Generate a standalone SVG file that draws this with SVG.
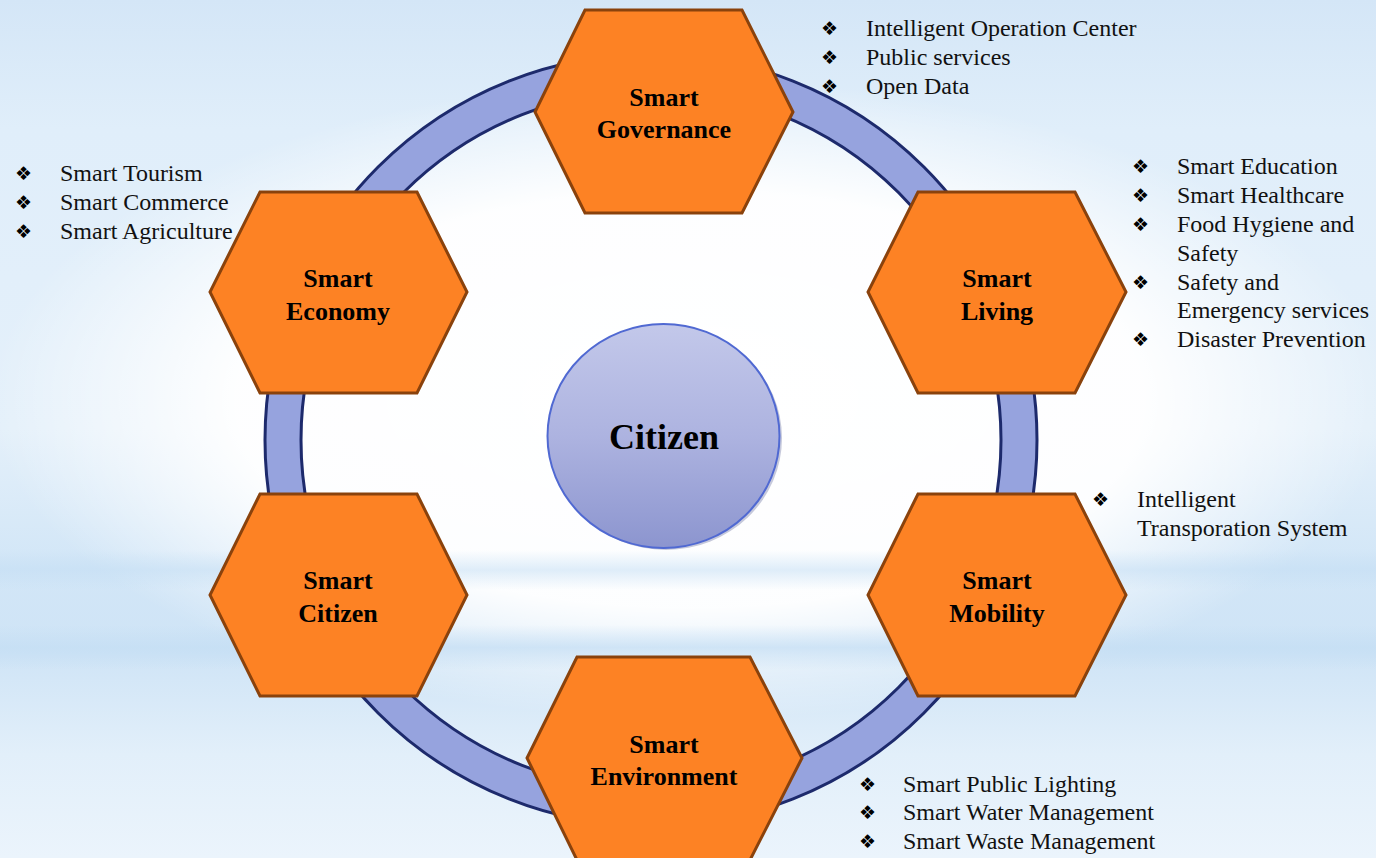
<svg xmlns="http://www.w3.org/2000/svg" width="1376" height="858" viewBox="0 0 1376 858">
  <defs>
    <linearGradient id="bg" x1="0" y1="0" x2="0" y2="1">
      <stop offset="0" stop-color="#d4e6f7"/>
      <stop offset="0.15" stop-color="#e0eefa"/>
      <stop offset="0.5" stop-color="#e4f0fa"/>
      <stop offset="0.66" stop-color="#d2e6f7"/>
      <stop offset="0.76" stop-color="#cfe4f6"/>
      <stop offset="0.88" stop-color="#e2effa"/>
      <stop offset="1" stop-color="#ebf4fc"/>
    </linearGradient>
    <radialGradient id="glow" cx="0.5" cy="0.5" r="0.5">
      <stop offset="0" stop-color="#ffffff" stop-opacity="1"/>
      <stop offset="0.65" stop-color="#ffffff" stop-opacity="0.95"/>
      <stop offset="1" stop-color="#ffffff" stop-opacity="0"/>
    </radialGradient>
    <linearGradient id="streak" x1="0" y1="0" x2="0" y2="1">
      <stop offset="0" stop-color="#c4def4" stop-opacity="0"/>
      <stop offset="0.5" stop-color="#c4def4" stop-opacity="0.9"/>
      <stop offset="1" stop-color="#c4def4" stop-opacity="0"/>
    </linearGradient>
    <linearGradient id="cit" x1="0" y1="0" x2="0" y2="1">
      <stop offset="0" stop-color="#c3c8ea"/>
      <stop offset="0.5" stop-color="#adb3e0"/>
      <stop offset="1" stop-color="#8c95cf"/>
    </linearGradient>
    <style>
      .hex { fill: #fd8224; stroke: #8a420c; stroke-width: 3; stroke-linejoin: miter; }
      .lbl { font-family: "Liberation Serif", "Times New Roman", serif; font-weight: bold; font-size: 26px; fill: #000; text-anchor: middle; }
      .bl { font-family: "Liberation Serif", "Times New Roman", serif; font-size: 24px; fill: #111; }
      .bu { font-family: "DejaVu Sans", sans-serif; font-size: 19px; fill: #000; }
    </style>
  </defs>

  <!-- background -->
  <rect x="0" y="0" width="1376" height="858" fill="url(#bg)"/>
  <ellipse cx="690" cy="400" rx="700" ry="320" fill="url(#glow)"/>
  <rect x="0" y="550" width="1376" height="40" fill="url(#streak)" opacity="0.6"/>
  <rect x="0" y="625" width="1376" height="45" fill="url(#streak)" opacity="0.8"/>

  <!-- ring (connector) -->
  <g id="connectors">
    <circle cx="651" cy="440" r="368" fill="none" stroke="#96a3de" stroke-width="36"/>
    <circle cx="651" cy="440" r="386" fill="none" stroke="#1d2a6c" stroke-width="3"/>
    <circle cx="651" cy="440" r="350" fill="none" stroke="#1d2a6c" stroke-width="3"/>
  </g>

  <!-- center -->
  <g id="citizen-center">
    <ellipse cx="666" cy="438" rx="116" ry="112" fill="#8d94b8" opacity="0.5"/>
    <ellipse cx="663.5" cy="436" rx="116" ry="112" fill="url(#cit)" stroke="#5069d2" stroke-width="2"/>
    <text x="664" y="449" font-family="Liberation Serif, Times New Roman, serif" font-weight="bold" font-size="36" text-anchor="middle">Citizen</text>
  </g>

  <g id="smart-governance">
    <polygon class="hex" points="585,10 742,10 793,112 742,213 585,213 535,112"/>
    <text class="lbl" x="664" y="106">Smart</text>
    <text class="lbl" x="664" y="138">Governance</text>
  </g>

  <g id="smart-economy">
    <polygon class="hex" points="260,192 417,192 467,292 417,393 260,393 210,292"/>
    <text class="lbl" x="338" y="287">Smart</text>
    <text class="lbl" x="338" y="320">Economy</text>
  </g>

  <g id="smart-living">
    <polygon class="hex" points="918,192 1075,192 1126,292 1075,393 918,393 868,292"/>
    <text class="lbl" x="997" y="287">Smart</text>
    <text class="lbl" x="997" y="320">Living</text>
  </g>

  <g id="smart-citizen">
    <polygon class="hex" points="260,494 417,494 467,595 417,696 260,696 210,595"/>
    <text class="lbl" x="338" y="589">Smart</text>
    <text class="lbl" x="338" y="622">Citizen</text>
  </g>

  <g id="smart-mobility">
    <polygon class="hex" points="918,494 1075,494 1126,595 1075,696 918,696 868,595"/>
    <text class="lbl" x="997" y="589">Smart</text>
    <text class="lbl" x="997" y="622">Mobility</text>
  </g>

  <g id="smart-environment">
    <polygon class="hex" points="577,657 750,657 802,758 750,860 577,860 527,758"/>
    <text class="lbl" x="664" y="753">Smart</text>
    <text class="lbl" x="664" y="785">Environment</text>
  </g>

  <!-- bullet lists -->
  <g id="list-governance">
    <text class="bu" x="821" y="35">❖</text><text class="bl" x="866" y="36">Intelligent Operation Center</text>
    <text class="bu" x="821" y="64">❖</text><text class="bl" x="866" y="65">Public services</text>
    <text class="bu" x="821" y="93">❖</text><text class="bl" x="866" y="94">Open Data</text>
  </g>

  <g id="list-economy">
    <text class="bu" x="15" y="180">❖</text><text class="bl" x="60" y="181">Smart Tourism</text>
    <text class="bu" x="15" y="209">❖</text><text class="bl" x="60" y="210">Smart Commerce</text>
    <text class="bu" x="15" y="238">❖</text><text class="bl" x="60" y="239">Smart Agriculture</text>
  </g>

  <g id="list-living">
    <text class="bu" x="1132" y="173">❖</text><text class="bl" x="1177" y="174">Smart Education</text>
    <text class="bu" x="1132" y="202">❖</text><text class="bl" x="1177" y="203">Smart Healthcare</text>
    <text class="bu" x="1132" y="231">❖</text><text class="bl" x="1177" y="232">Food Hygiene and</text>
    <text class="bl" x="1177" y="261">Safety</text>
    <text class="bu" x="1132" y="289">❖</text><text class="bl" x="1177" y="290">Safety and</text>
    <text class="bl" x="1177" y="318">Emergency services</text>
    <text class="bu" x="1132" y="346">❖</text><text class="bl" x="1177" y="347">Disaster Prevention</text>
  </g>

  <g id="list-mobility">
    <text class="bu" x="1092" y="506">❖</text><text class="bl" x="1137" y="507">Intelligent</text>
    <text class="bl" x="1137" y="536">Transporation System</text>
  </g>

  <g id="list-environment">
    <text class="bu" x="859" y="791">❖</text><text class="bl" x="903" y="792">Smart Public Lighting</text>
    <text class="bu" x="859" y="819">❖</text><text class="bl" x="903" y="820">Smart Water Management</text>
    <text class="bu" x="859" y="848">❖</text><text class="bl" x="903" y="849">Smart Waste Management</text>
  </g>
</svg>
